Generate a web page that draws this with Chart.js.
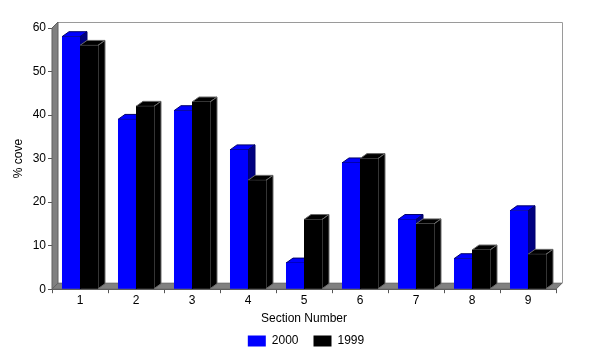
<!DOCTYPE html>
<html><head><meta charset="utf-8">
<script src="https://cdn.jsdelivr.net/npm/chart.js@4/dist/chart.umd.min.js"></script>
<style>html,body{margin:0;padding:0;background:#fff}#wrap{width:600px;height:358px}</style>
</head><body><div id="wrap"><canvas id="c" width="600" height="358"></canvas></div>
<script>
const categories = ['1','2','3','4','5','6','7','8','9'];
const values2000 = [58, 39, 41, 32, 6, 29, 16, 7, 18];
const values1999 = [56, 42, 43, 25, 16, 30, 15, 9, 8];
const seriesNames = ['2000', '1999'];

const DX = 7, DY = 5, WX = 6, WY = 6;
const depthColors = [
  {top:'#0000ff', side:'#000080', edge:'#00006a'},
  {top:'#000000', side:'#000000', edge:'#6a6a6a'}
];
const threeD = {
  id:'threeD',
  afterLayout(chart){
    const lg = chart.legend;
    if (lg) { lg.left += 28; lg.right += 28; lg.top -= 6; lg.bottom -= 6; }
  },
  beforeDatasetsDraw(chart){
    const ctx = chart.ctx, a = chart.chartArea;
    ctx.save();
    ctx.strokeStyle = '#9a9a9a'; ctx.lineWidth = 1;
    ctx.beginPath();
    ctx.moveTo(a.left+WX, a.top-WY+0.5); ctx.lineTo(a.right+WX+0.5, a.top-WY+0.5);
    ctx.lineTo(a.right+WX+0.5, a.bottom-WY);
    ctx.stroke();
    ctx.fillStyle = '#808080';
    ctx.strokeStyle = '#606060';
    ctx.beginPath();
    ctx.moveTo(a.left, a.top); ctx.lineTo(a.left+WX, a.top-WY);
    ctx.lineTo(a.left+WX, a.bottom-WY); ctx.lineTo(a.left, a.bottom); ctx.closePath();
    ctx.fill(); ctx.stroke();
    ctx.beginPath();
    ctx.moveTo(a.left, a.bottom); ctx.lineTo(a.left+WX, a.bottom-WY);
    ctx.lineTo(a.right+WX, a.bottom-WY); ctx.lineTo(a.right, a.bottom); ctx.closePath();
    ctx.fill(); ctx.stroke();
    const n = categories.length;
    for (let i=0;i<n;i++){
      for (let d=0; d<chart.data.datasets.length; d++){
        const bar = chart.getDatasetMeta(d).data[i];
        const p = bar.getProps(['x','y','base','width'], true);
        const l = p.x - p.width/2, r = p.x + p.width/2, t = p.y, b = p.base;
        const c = depthColors[d];
        ctx.strokeStyle = c.edge; ctx.lineWidth = 1;
        ctx.fillStyle = c.top;
        ctx.beginPath();
        ctx.moveTo(l, t); ctx.lineTo(l+DX, t-DY); ctx.lineTo(r+DX, t-DY); ctx.lineTo(r, t); ctx.closePath();
        ctx.fill(); ctx.stroke();
        ctx.fillStyle = c.side;
        ctx.beginPath();
        ctx.moveTo(r, t); ctx.lineTo(r+DX, t-DY); ctx.lineTo(r+DX, b-DY); ctx.lineTo(r, b); ctx.closePath();
        ctx.fill(); ctx.stroke();
      }
    }
    ctx.restore();
  }
};

Chart.defaults.font.family = '"Liberation Sans", Arial, sans-serif';
Chart.defaults.font.size = 12;
Chart.defaults.color = '#000';

new Chart(document.getElementById('c'), {
  type:'bar',
  data:{
    labels: categories,
    datasets:[
      {label: seriesNames[0], data: values2000, backgroundColor:'#0000ff', borderWidth:0},
      {label: seriesNames[1], data: values1999, backgroundColor:'#000000', borderWidth:0}
    ]
  },
  options:{
    responsive:false, animation:false, devicePixelRatio:1,
    datasets:{bar:{categoryPercentage:0.643, barPercentage:1}},
    layout:{padding:{top:28, right:44, left:0, bottom:0}},
    plugins:{
      legend:{position:'bottom', maxHeight:32, labels:{boxWidth:18, boxHeight:11, padding:15, font:{size:12}}},
      tooltip:{enabled:false}
    },
    scales:{
      x:{
        grid:{display:true, drawOnChartArea:false, drawTicks:true, tickLength:4, color:'#555'},
        border:{display:true, color:'#555'},
        ticks:{padding:0},
        title:{display:true, text:'Section Number', padding:{top:4,bottom:0}}
      },
      y:{
        min:0, max:60,
        afterFit(s){ s.width = 52; },
        ticks:{stepSize:10, padding:2},
        grid:{display:true, drawOnChartArea:false, drawTicks:true, tickLength:4, color:'#555'},
        border:{display:true, color:'#555'},
        title:{display:true, text:'% cove', padding:{top:11,bottom:0}}
      }
    }
  },
  plugins:[threeD]
});
</script>
</body></html>
